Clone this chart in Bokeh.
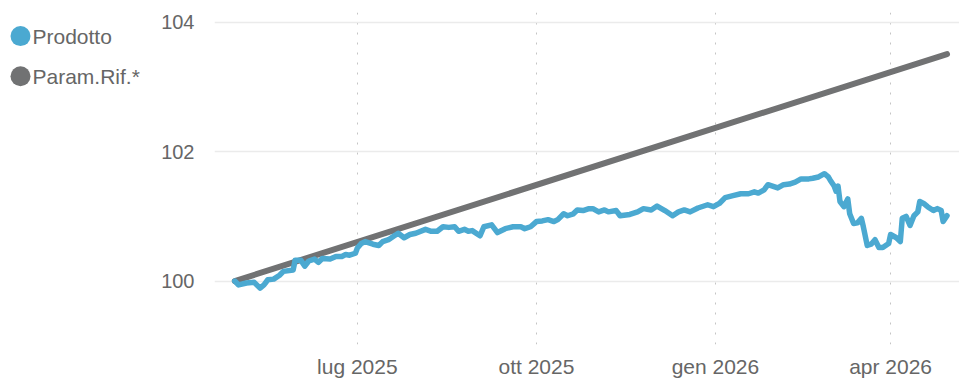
from datetime import datetime
import pandas as pd
from bokeh.plotting import figure
from bokeh.layouts import row
from bokeh.models import Range1d, FixedTicker, ColumnDataSource
from bokeh.core.properties import value
from bokeh.embed import file_html
from bokeh.resources import INLINE

# ---------------- data ----------------
series_names = ["Prodotto", "Param.Rif.*"]
series_colors = ["#4ba9d1", "#717273"]

prod_dates = [
    "2025-04-29", "2025-05-01", "2025-05-05", "2025-05-09", "2025-05-12", "2025-05-14",
    "2025-05-16", "2025-05-19", "2025-05-22", "2025-05-24", "2025-05-29", "2025-05-30",
    "2025-06-02", "2025-06-04", "2025-06-06", "2025-06-09", "2025-06-11", "2025-06-13",
    "2025-06-17", "2025-06-20", "2025-06-23", "2025-06-25", "2025-06-27", "2025-06-30",
    "2025-07-01", "2025-07-03", "2025-07-05", "2025-07-09", "2025-07-12", "2025-07-14",
    "2025-07-17", "2025-07-20", "2025-07-22", "2025-07-25", "2025-07-28", "2025-07-31",
    "2025-08-05", "2025-08-08", "2025-08-11", "2025-08-14", "2025-08-17", "2025-08-20",
    "2025-08-22", "2025-08-25", "2025-08-27", "2025-08-29", "2025-09-02", "2025-09-04",
    "2025-09-08", "2025-09-11", "2025-09-15", "2025-09-19", "2025-09-23", "2025-09-25",
    "2025-09-28", "2025-10-01", "2025-10-04", "2025-10-07", "2025-10-10", "2025-10-12",
    "2025-10-15", "2025-10-17", "2025-10-20", "2025-10-22", "2025-10-25", "2025-10-28",
    "2025-10-30", "2025-11-02", "2025-11-05", "2025-11-07", "2025-11-11", "2025-11-13",
    "2025-11-18", "2025-11-22", "2025-11-25", "2025-11-29", "2025-12-02", "2025-12-06",
    "2025-12-10", "2025-12-13", "2025-12-16", "2025-12-19", "2025-12-23", "2025-12-28",
    "2025-12-31", "2026-01-03", "2026-01-06", "2026-01-10", "2026-01-14", "2026-01-18",
    "2026-01-21", "2026-01-23", "2026-01-26", "2026-01-28", "2026-02-02", "2026-02-05",
    "2026-02-08", "2026-02-11", "2026-02-14", "2026-02-18", "2026-02-20", "2026-02-23",
    "2026-02-26", "2026-02-28", "2026-03-01", "2026-03-03", "2026-03-04", "2026-03-05",
    "2026-03-06", "2026-03-08", "2026-03-10", "2026-03-11", "2026-03-13", "2026-03-15",
    "2026-03-17", "2026-03-18", "2026-03-20", "2026-03-22", "2026-03-24", "2026-03-26",
    "2026-03-28", "2026-03-31", "2026-04-01", "2026-04-04", "2026-04-06", "2026-04-07",
    "2026-04-09", "2026-04-11", "2026-04-13", "2026-04-15", "2026-04-16", "2026-04-18",
    "2026-04-20", "2026-04-23", "2026-04-25", "2026-04-27", "2026-04-28", "2026-04-30",
]
prod_values = [
    100.00, 99.94, 99.97, 99.98, 99.89, 99.94,
    100.02, 100.03, 100.09, 100.15, 100.17, 100.32,
    100.32, 100.23, 100.31, 100.34, 100.29, 100.35,
    100.34, 100.38, 100.38, 100.41, 100.40, 100.43,
    100.51, 100.58, 100.61, 100.57, 100.55, 100.61,
    100.64, 100.70, 100.74, 100.67, 100.72, 100.74,
    100.80, 100.77, 100.77, 100.84, 100.83, 100.84,
    100.77, 100.80, 100.77, 100.78, 100.70, 100.84,
    100.87, 100.75, 100.81, 100.84, 100.84, 100.81,
    100.84, 100.92, 100.93, 100.95, 100.92, 100.95,
    101.04, 101.01, 101.04, 101.10, 101.09, 101.12,
    101.12, 101.07, 101.10, 101.07, 101.09, 101.01,
    101.03, 101.07, 101.12, 101.10, 101.16, 101.09,
    101.01, 101.07, 101.10, 101.07, 101.13, 101.18,
    101.15, 101.20, 101.29, 101.32, 101.35, 101.35,
    101.38, 101.36, 101.41, 101.49, 101.44, 101.49,
    101.50, 101.53, 101.58, 101.58, 101.59, 101.61,
    101.66, 101.61, 101.56, 101.47, 101.39, 101.47,
    101.23, 101.15, 101.27, 101.04, 100.89, 100.90,
    100.97, 100.84, 100.55, 100.57, 100.64, 100.52,
    100.52, 100.58, 100.72, 100.67, 100.61, 100.97,
    101.00, 100.86, 101.01, 101.07, 101.23, 101.20,
    101.15, 101.09, 101.12, 101.09, 100.92, 101.01,
]

ref_dates = ["2025-04-29", "2026-04-30"]
ref_values = [100.00, 103.51]

x_tick_dates = ["2025-07-01", "2025-10-01", "2026-01-01", "2026-04-01"]
x_tick_labels = ["lug 2025", "ott 2025", "gen 2026", "apr 2026"]
y_ticks = [100, 102, 104]

# ---------------- styling ----------------
FONT = "Liberation Sans"
TEXT_COLOR = "#666666"
H = 380
LEG_W = 158
MAIN_W = 959 - LEG_W

# ---------------- legend figure ----------------
leg = figure(width=LEG_W, height=H, x_range=Range1d(0, LEG_W), y_range=Range1d(H, 0),
             toolbar_location=None, output_backend="svg", min_border=0)
leg.title = None
leg.axis.visible = False
leg.grid.visible = False
leg.outline_line_color = None
leg_y = [27 + 46 * i for i in range(len(series_names))]
leg_src = ColumnDataSource(dict(x=[20] * len(series_names), tx=[32] * len(series_names),
                                y=leg_y, name=series_names, color=series_colors))
leg.scatter("x", "y", source=leg_src, size=20, color="color", line_color=None)
leg.text("tx", "y", text="name", source=leg_src, text_font=value(FONT),
         text_font_size="21px", text_color=TEXT_COLOR, text_baseline="middle", text_align="left")

# ---------------- main figure ----------------
x_start = datetime(2025, 4, 18, 14)
x_end = datetime(2026, 5, 6, 10)
p = figure(width=MAIN_W, height=H, x_axis_type="datetime",
           x_range=Range1d(x_start, x_end), y_range=Range1d(99.019, 104.153),
           toolbar_location=None, output_backend="svg",
           min_border_left=55, min_border_right=0, min_border_top=12, min_border_bottom=33)
p.title = None
p.outline_line_color = None

pd_prod = pd.to_datetime(prod_dates)
pd_ref = pd.to_datetime(ref_dates)
p.line(pd_ref, ref_values, line_color=series_colors[1], line_width=6, line_cap="round")
p.line(pd_prod, prod_values, line_color=series_colors[0], line_width=5.5,
       line_join="round", line_cap="round")

tick_ms = [float(pd.Timestamp(d).value // 10**6) for d in x_tick_dates]
p.xaxis.ticker = FixedTicker(ticks=tick_ms)
p.xaxis.major_label_overrides = {t: lab for t, lab in zip(tick_ms, x_tick_labels)}
p.yaxis.ticker = FixedTicker(ticks=y_ticks)

for ax in (p.xaxis, p.yaxis):
    ax.axis_line_color = None
    ax.major_tick_line_color = None
    ax.minor_tick_line_color = None
    ax.major_tick_out = 0
    ax.major_label_text_font = FONT
    ax.major_label_text_color = TEXT_COLOR
p.xaxis.major_label_text_font_size = "21px"
p.yaxis.major_label_text_font_size = "20px"
p.xaxis.major_label_standoff = 10
p.yaxis.major_label_standoff = 20

p.xgrid.grid_line_color = "#c4c4c4"
p.xgrid.grid_line_dash = "2 8"
p.xgrid.grid_line_width = 1
p.ygrid.grid_line_color = "#ebebeb"
p.ygrid.grid_line_width = 1.5

layout = row(leg, p)
open("out.html", "w").write(file_html(layout, INLINE))
